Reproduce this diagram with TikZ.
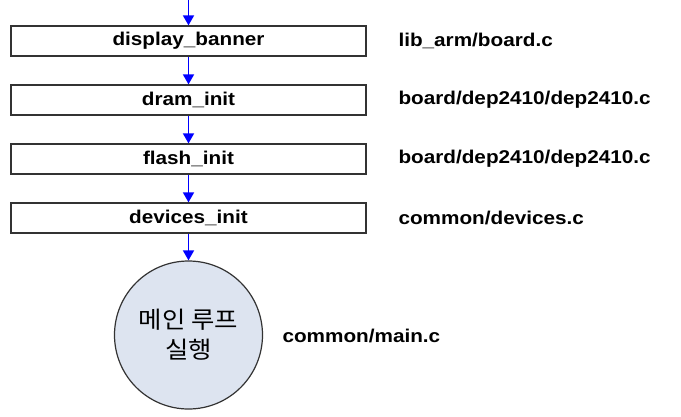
\documentclass[tikz,border=0pt]{standalone}
\usepackage{fontspec}
\setmainfont[FakeStretch=1.12]{Liberation Sans}
\newfontfamily\krfont[FakeStretch=1.08]{Noto Sans CJK KR}
\usetikzlibrary{arrows.meta}
\definecolor{loopfill}{RGB}{221,228,240}

\begin{document}
\begin{tikzpicture}[x=1pt,y=-1pt,line width=1pt,
  func/.style={draw=black!80,line width=1.2pt,minimum width=355pt,minimum height=30pt,inner sep=0pt,font=\bfseries\fontsize{18.5}{20}\selectfont},
  src/.style={anchor=west,inner sep=0pt,font=\bfseries\fontsize{18.5}{20}\selectfont},
  flow/.style={draw=blue,line width=1.5pt,-{Triangle[length=10pt,width=11pt]}}]
\path[use as bounding box] (0,0) rectangle (681,416);
% call chain
\coordinate (top) at (188.5,-5);
\node[func] (banner) at (188.5,41) {display\_banner};
\node[func] (dram) at (188.5,100) {dram\_init};
\node[func] (flash) at (188.5,159) {flash\_init};
\node[func] (devices) at (188.5,218) {devices\_init};
\node[circle,draw=black!80,line width=1.2pt,fill=loopfill,minimum size=148pt,inner sep=0pt,align=center,
  font=\krfont\fontsize{23.5}{30}\selectfont] (mainloop) at (188.5,335) {메인 루프\\실행};
% source files
\node[src] (bannersrc) at (398,41) {lib\_arm/board.c};
\node[src] (dramsrc) at (398,100) {board/dep2410/dep2410.c};
\node[src] (flashsrc) at (398,159) {board/dep2410/dep2410.c};
\node[src] (devicessrc) at (398,218) {common/devices.c};
\node[src] (mainsrc) at (282,336) {common/main.c};
% arrows
\draw[flow] (top) -- (banner.north);
\draw[flow] (banner) -- (dram);
\draw[flow] (dram) -- (flash);
\draw[flow] (flash) -- (devices);
\draw[flow] (devices) -- (mainloop);
\end{tikzpicture}
\end{document}
